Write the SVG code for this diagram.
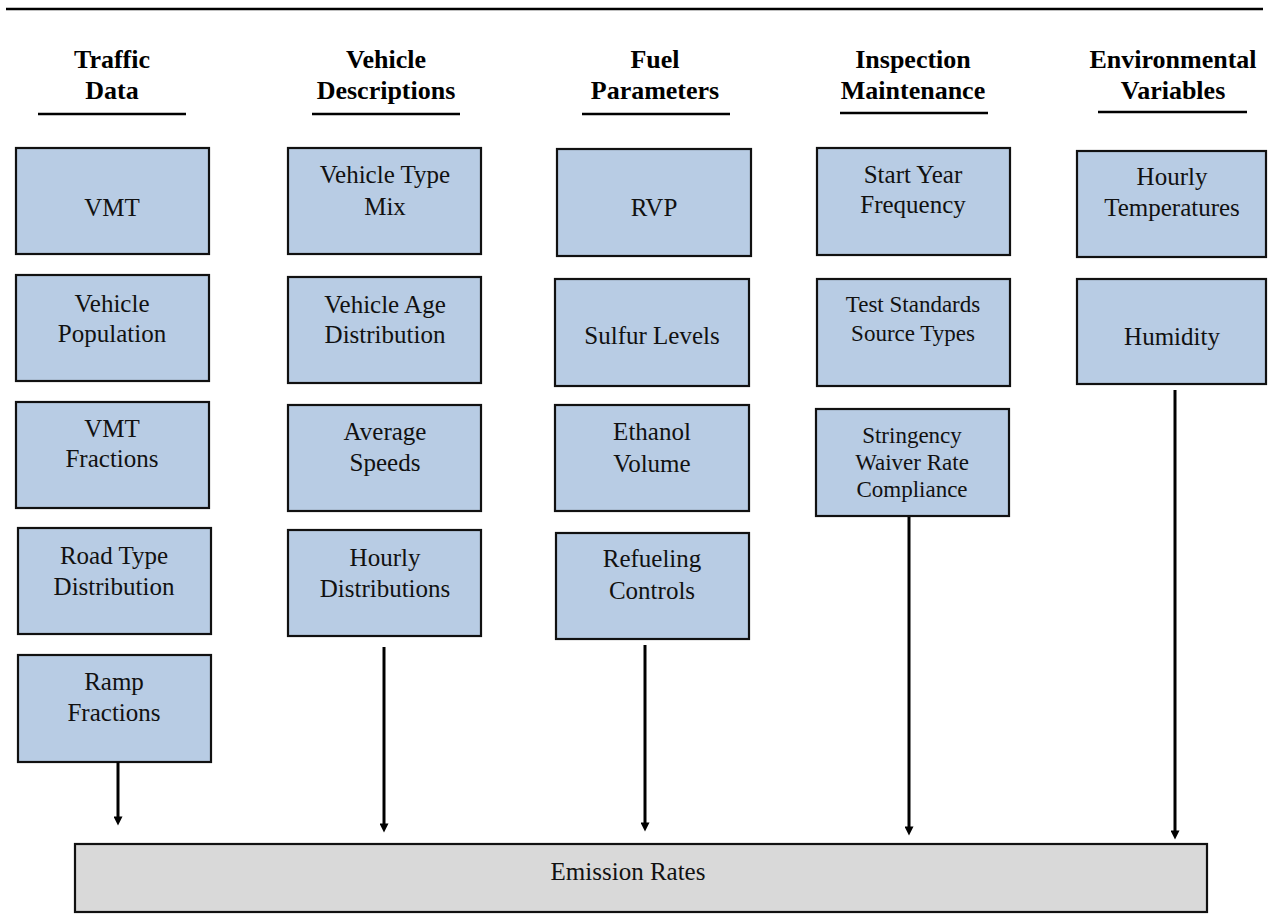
<svg xmlns="http://www.w3.org/2000/svg" width="1268" height="917" viewBox="0 0 1268 917">
<defs>
<style>
.box{fill:#b8cce4;stroke:#111;stroke-width:2.2}
.out{fill:#d9d9d9;stroke:#111;stroke-width:2.2}
.t{font-family:"Liberation Serif","Times New Roman",serif;font-size:25px;fill:#111;text-anchor:middle}
.s{font-size:23px}
.h{font-family:"Liberation Serif","Times New Roman",serif;font-size:26px;font-weight:bold;fill:#000;text-anchor:middle}
.rule{stroke:#000;stroke-width:2.5}
.conn line{stroke:#000;stroke-width:3;marker-end:url(#ah)}
</style>
<marker id="ah" viewBox="0 0 10 10" refX="5" refY="5" markerWidth="3.2" markerHeight="3" orient="auto" markerUnits="strokeWidth">
<path d="M0,0 L10,5 L0,10 z" fill="#000"/>
</marker>
</defs>
<rect width="1268" height="917" fill="#fff"/>
<line x1="6" y1="9" x2="1263" y2="9" class="rule"/>

<g id="headers">
<text class="h" x="112" y="68">Traffic</text><text class="h" x="112" y="99">Data</text>
<line class="rule" x1="38" y1="114" x2="186" y2="114"/>
<text class="h" x="386" y="68">Vehicle</text><text class="h" x="386" y="99">Descriptions</text>
<line class="rule" x1="312" y1="114" x2="460" y2="114"/>
<text class="h" x="655" y="68">Fuel</text><text class="h" x="655" y="99">Parameters</text>
<line class="rule" x1="582" y1="114" x2="730" y2="114"/>
<text class="h" x="913" y="68">Inspection</text><text class="h" x="913" y="99">Maintenance</text>
<line class="rule" x1="840" y1="113" x2="988" y2="113"/>
<text class="h" x="1173" y="68">Environmental</text><text class="h" x="1173" y="99">Variables</text>
<line class="rule" x1="1098" y1="112" x2="1247" y2="112"/>
</g>

<g id="vmt"><rect class="box" x="16" y="148" width="193" height="106"/><text class="t" x="112" y="216">VMT</text></g>
<g id="vehicle-population"><rect class="box" x="16" y="275" width="193" height="106"/><text class="t" x="112" y="312">Vehicle</text><text class="t" x="112" y="342">Population</text></g>
<g id="vmt-fractions"><rect class="box" x="16" y="402" width="193" height="106"/><text class="t" x="112" y="437">VMT</text><text class="t" x="112" y="467">Fractions</text></g>
<g id="road-type"><rect class="box" x="18" y="528" width="193" height="106"/><text class="t" x="114" y="564">Road Type</text><text class="t" x="114" y="595">Distribution</text></g>
<g id="ramp-fractions"><rect class="box" x="18" y="655" width="193" height="107"/><text class="t" x="114" y="690">Ramp</text><text class="t" x="114" y="721">Fractions</text></g>

<g id="vehicle-type-mix"><rect class="box" x="288" y="148" width="193" height="106"/><text class="t" x="385" y="183">Vehicle Type</text><text class="t" x="385" y="215">Mix</text></g>
<g id="vehicle-age"><rect class="box" x="288" y="277" width="193" height="106"/><text class="t" x="385" y="313">Vehicle Age</text><text class="t" x="385" y="343">Distribution</text></g>
<g id="average-speeds"><rect class="box" x="288" y="405" width="193" height="106"/><text class="t" x="385" y="440">Average</text><text class="t" x="385" y="471">Speeds</text></g>
<g id="hourly-distributions"><rect class="box" x="288" y="530" width="193" height="106"/><text class="t" x="385" y="566">Hourly</text><text class="t" x="385" y="597">Distributions</text></g>

<g id="rvp"><rect class="box" x="557" y="149" width="194" height="107"/><text class="t" x="654" y="216">RVP</text></g>
<g id="sulfur"><rect class="box" x="555" y="279" width="194" height="107"/><text class="t" x="652" y="344">Sulfur Levels</text></g>
<g id="ethanol"><rect class="box" x="555" y="405" width="194" height="106"/><text class="t" x="652" y="440">Ethanol</text><text class="t" x="652" y="472">Volume</text></g>
<g id="refueling"><rect class="box" x="556" y="533" width="193" height="106"/><text class="t" x="652" y="567">Refueling</text><text class="t" x="652" y="599">Controls</text></g>

<g id="start-year"><rect class="box" x="817" y="148" width="193" height="107"/><text class="t" x="913" y="183">Start Year</text><text class="t" x="913" y="213">Frequency</text></g>
<g id="test-standards"><rect class="box" x="817" y="279" width="193" height="107"/><text class="t s" x="913" y="312">Test Standards</text><text class="t s" x="913" y="341">Source Types</text></g>
<g id="stringency"><rect class="box" x="816" y="409" width="193" height="107"/><text class="t s" x="912" y="443">Stringency</text><text class="t s" x="912" y="470">Waiver Rate</text><text class="t s" x="912" y="497">Compliance</text></g>

<g id="hourly-temperatures"><rect class="box" x="1077" y="151" width="189" height="106"/><text class="t" x="1172" y="185">Hourly</text><text class="t" x="1172" y="216">Temperatures</text></g>
<g id="humidity"><rect class="box" x="1077" y="279" width="189" height="105"/><text class="t" x="1172" y="345">Humidity</text></g>

<g id="emission-rates"><rect class="out" x="75" y="844" width="1132" height="68"/><text class="t" x="628" y="880">Emission Rates</text></g>

<g id="connectors" class="conn">
<line x1="118" y1="762" x2="118" y2="821"/>
<line x1="384" y1="647" x2="384" y2="828"/>
<line x1="645" y1="645" x2="645" y2="827"/>
<line x1="909" y1="517" x2="909" y2="831"/>
<line x1="1175" y1="390" x2="1175" y2="835"/>
</g>
</svg>
